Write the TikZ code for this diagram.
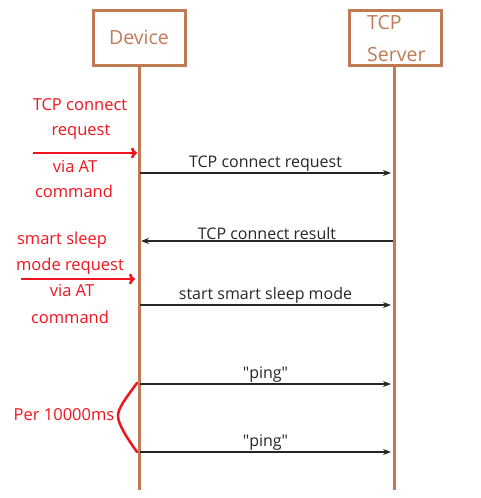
\documentclass[tikz,border=0pt]{standalone}
\usepackage{fontspec}
\setmainfont{Open Sans}
\usetikzlibrary{arrows.meta}
\definecolor{lifebrown}{RGB}{192,122,86}
\definecolor{notered}{RGB}{240,20,30}

\begin{document}
\begin{tikzpicture}[x=1pt,y=-1pt,
  actor/.style={draw=lifebrown,line width=3pt,minimum width=92pt,minimum height=55pt,text=lifebrown,font=\fontsize{19.5}{22}\selectfont},
  msg/.style={-{Stealth[length=8pt,width=6pt]},line width=1.5pt,black!85},
  note/.style={text=notered,font=\fontsize{16.5}{19}\selectfont},
  lbl/.style={font=\fontsize{16}{19}\selectfont,inner sep=1pt}]
\useasboundingbox (0,0) rectangle (480,498);

\node[actor] (dev) at (139,37.5) {Device};
\node[actor] (srv) at (395,37.5) {};
\node[text=lifebrown,font=\fontsize{19.5}{22}\selectfont,anchor=west,inner sep=0pt] (srvA) at (367,23) {TCP};
\node[text=lifebrown,font=\fontsize{19.5}{22}\selectfont,anchor=west,inner sep=0pt] (srvB) at (367,55) {Server};

\coordinate (devEnd) at (139,490);
\coordinate (srvEnd) at (394,490);
\draw[lifebrown,line width=3pt] (dev.south) -- (devEnd);
\draw[lifebrown,line width=3pt] (394,65) -- (srvEnd);

% messages
\coordinate (d1) at (140,173); \coordinate (s1) at (391,173);
\coordinate (d2) at (141,241); \coordinate (s2) at (393,241);
\coordinate (d3) at (140,305); \coordinate (s3) at (391,305);
\coordinate (d4) at (140,384); \coordinate (s4) at (391,384);
\coordinate (d5) at (140,452); \coordinate (s5) at (391,452);

\draw[msg] (d1) to node[lbl,above] {TCP connect request} (s1);
\draw[msg] (s2) to node[lbl,above] {TCP connect result} (d2);
\draw[msg] (d3) to node[lbl,above] {start smart sleep mode} (s3);
\draw[msg] (d4) to node[lbl,above] {\textquotedbl ping\textquotedbl} (s4);
\draw[msg] (d5) to node[lbl,above] {\textquotedbl ping\textquotedbl} (s5);

% AT commands
\node[note] (at1a) at (80,105) {TCP connect};
\node[note] (at1b) at (81,132) {request};
\node[note] (at1c) at (75,167) {via AT};
\node[note] (at1d) at (74,191) {command};
\coordinate (r1) at (33,153); \coordinate (r1e) at (137,153);
\draw[notered,line width=2.5pt,-{To[length=6pt,width=11pt]}] (r1) -- (r1e);

\node[note] (at2a) at (62,240) {smart sleep};
\node[note] (at2b) at (70,266) {mode request};
\node[note] (at2c) at (72,291) {via AT};
\node[note] (at2d) at (70,317) {command};
\coordinate (r2) at (21,279); \coordinate (r2e) at (135,279);
\draw[notered,line width=2.5pt,-{To[length=6pt,width=11pt]}] (r2) -- (r2e);

% period brace
\node[note] (per) at (64,415) {Per 10000ms};
\coordinate (b1) at (137,383); \coordinate (bm) at (118,416); \coordinate (b2) at (137,452);
\draw[notered,line width=2.5pt,line cap=round] (b1) .. controls (126,398) and (118,408) .. (bm)
  .. controls (118,424) and (127,438) .. (b2);
\end{tikzpicture}
\end{document}
